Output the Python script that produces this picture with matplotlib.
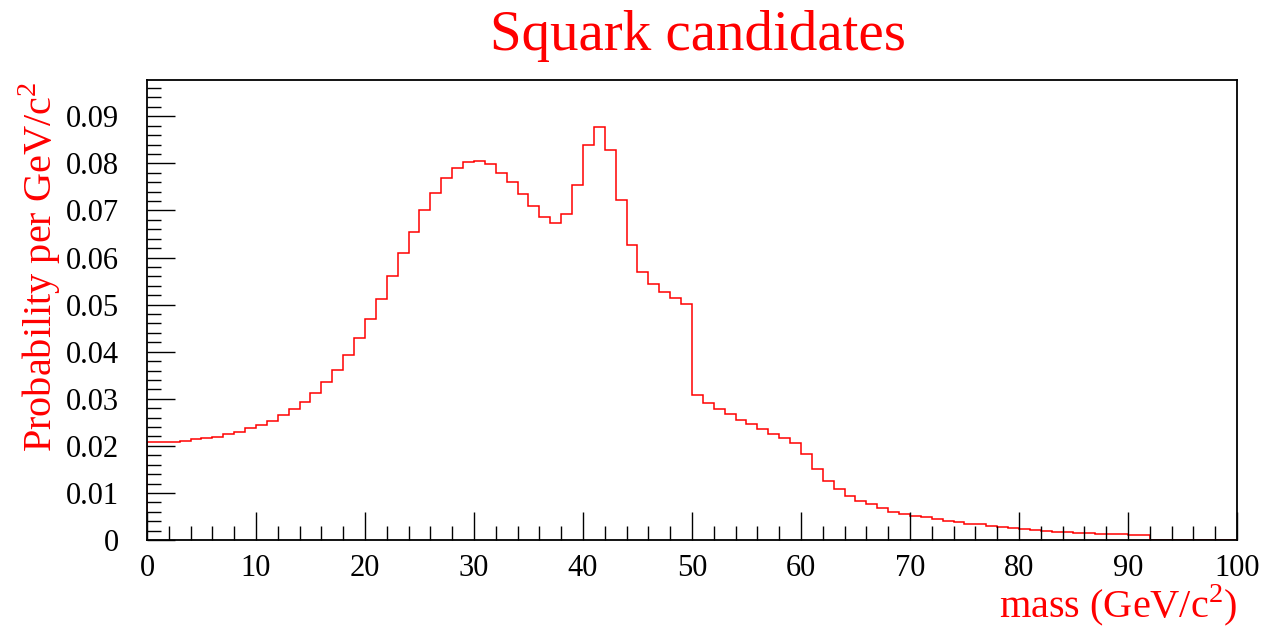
import numpy as np
import matplotlib.pyplot as plt

plt.rcParams['font.family'] = ['Liberation Serif', 'DejaVu Serif']
plt.rcParams['mathtext.fontset'] = 'custom'
plt.rcParams['mathtext.rm'] = 'Liberation Serif'

# bin edges (GeV/c^2) and contents (probability per GeV/c^2)
edges = np.arange(0, 101, 1)
prob = [
    0.0209, 0.0209, 0.0209, 0.0211, 0.0214, 0.0216, 0.0219, 0.0225, 0.0229, 0.0237,
    0.0245, 0.0253, 0.0265, 0.0279, 0.0294, 0.0313, 0.0335, 0.0361, 0.0393, 0.0429,
    0.0469, 0.0512, 0.0560, 0.0609, 0.0655, 0.0700, 0.0738, 0.0768, 0.0790, 0.0802,
    0.0804, 0.0798, 0.0780, 0.0761, 0.0734, 0.0709, 0.0685, 0.0674, 0.0693, 0.0754,
    0.0838, 0.0877, 0.0829, 0.0723, 0.0626, 0.0569, 0.0543, 0.0527, 0.0515, 0.0502,
    0.0308, 0.0292, 0.0279, 0.0267, 0.0255, 0.0246, 0.0235, 0.0225, 0.0216, 0.0207,
    0.0183, 0.0150, 0.0126, 0.0108, 0.0094, 0.0083, 0.0076, 0.0069, 0.0059, 0.0055,
    0.0052, 0.0048, 0.0045, 0.0041, 0.0038, 0.0035, 0.0033, 0.0030, 0.0028, 0.0025,
    0.0023, 0.0021, 0.0019, 0.0018, 0.0016, 0.0015, 0.0015, 0.0013, 0.0013, 0.0012,
    0.0011, 0.0011, 0, 0, 0, 0, 0, 0, 0, 0,
]

fig = plt.figure(figsize=(12.76, 6.31), dpi=100)
ax = fig.add_axes([0.1152, 0.1442, 0.9694 - 0.1152, 0.8732 - 0.1442])

ax.stairs(prob, edges, color='red', linewidth=1.1)

ax.set_xlim(0, 100)
ax.set_ylim(0, 0.0977)
ax.set_xticks(np.arange(0, 101, 10))
ax.set_xticks(np.arange(0, 101, 2), minor=True)
ax.set_yticks(np.arange(0, 0.0901, 0.01))
ax.set_yticks(np.arange(0, 0.0977, 0.002), minor=True)
ax.set_yticklabels(['0'] + ['%.2f' % v for v in np.arange(0.01, 0.0901, 0.01)])

ax.tick_params(which='major', direction='in', length=20, width=1, labelsize=22)
ax.tick_params(which='minor', direction='in', length=10, width=1)
ax.tick_params(axis='y', which='major', pad=20)
ax.tick_params(axis='x', which='major', pad=10)
for s in ax.spines.values():
    s.set_linewidth(1.3)

fig.text(0.547, 1 - 36 / 631, 'Squark candidates', color='red', fontsize=41,
         ha='center', va='center')
fig.text(1237 / 1276, 1 - 605 / 631, 'mass (GeV/c$^2$)', color='red', fontsize=29,
         ha='right', va='center')
fig.text(40 / 1276, 1 - 82 / 631, 'Probability per GeV/c$^2$', color='red', fontsize=29,
         ha='center', va='top', rotation=90)

fig.savefig('out.png', dpi=100)
